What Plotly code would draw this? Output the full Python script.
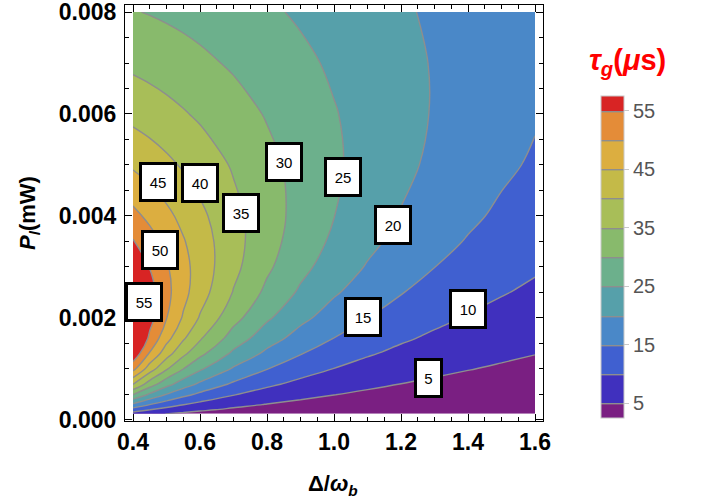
import plotly.graph_objects as go

# ---- data (Delta/omega_b, P_l in mW, tau_g in microseconds) ----
delta = [0.4, 0.45, 0.5, 0.55, 0.6, 0.7, 0.8, 0.9, 1.0, 1.1, 1.2, 1.3, 1.4, 1.5, 1.6]
power = [0.00012, 0.0002, 0.0003, 0.0005, 0.0007, 0.001, 0.0013, 0.0016, 0.002,
         0.0025, 0.003, 0.0035, 0.004, 0.005, 0.006, 0.007, 0.008]
tau_g = [
    [7.68, 6.07, 4.92, 4.07, 3.42, 2.51, 1.93, 1.52, 1.23, 1.02, 0.86, 0.73, 0.63, 0.55, 0.48],
    [12.72, 10.07, 8.17, 6.76, 5.69, 4.18, 3.20, 2.53, 2.05, 1.70, 1.43, 1.22, 1.05, 0.91, 0.80],
    [18.85, 14.96, 12.16, 10.08, 8.48, 6.25, 4.79, 3.79, 3.07, 2.54, 2.14, 1.82, 1.57, 1.37, 1.20],
    [30.24, 24.19, 19.77, 16.45, 13.89, 10.28, 7.91, 6.27, 5.09, 4.21, 3.54, 3.02, 2.61, 2.27, 2.00],
    [40.07, 32.40, 26.69, 22.34, 18.96, 14.12, 10.91, 8.67, 7.06, 5.85, 4.93, 4.21, 3.64, 3.17, 2.79],
    [51.40, 42.39, 35.45, 30.01, 25.70, 19.40, 15.12, 12.09, 9.88, 8.22, 6.95, 5.94, 5.14, 4.49, 3.95],
    [58.72, 49.48, 42.08, 36.11, 31.25, 23.97, 18.89, 15.23, 12.52, 10.46, 8.86, 7.60, 6.59, 5.77, 5.09],
    [62.68, 53.95, 46.67, 40.62, 35.57, 27.77, 22.16, 18.03, 14.92, 12.53, 10.66, 9.18, 7.98, 6.99, 6.18],
    [64.25, 56.72, 50.15, 44.45, 39.54, 31.63, 25.70, 21.20, 17.72, 15.01, 12.85, 11.11, 9.70, 8.53, 7.56],
    [62.68, 56.80, 51.40, 46.52, 42.13, 34.73, 28.88, 24.25, 20.56, 17.60, 15.21, 13.25, 11.63, 10.28, 9.15],
    [59.31, 54.83, 50.56, 46.55, 42.83, 36.28, 30.84, 26.36, 22.68, 19.64, 17.13, 15.04, 13.29, 11.82, 10.56],
    [55.35, 51.96, 48.62, 45.40, 42.33, 36.71, 31.84, 27.68, 24.15, 21.16, 18.64, 16.50, 14.69, 13.13, 11.80],
    [51.40, 48.81, 46.20, 43.63, 41.12, 36.39, 32.13, 28.36, 25.07, 22.23, 19.77, 17.65, 15.82, 14.23, 12.85],
    [44.31, 42.74, 41.12, 39.46, 37.79, 34.50, 31.34, 28.40, 25.70, 23.26, 21.07, 19.11, 17.36, 15.82, 14.44],
    [38.55, 37.55, 36.50, 35.40, 34.27, 31.96, 29.65, 27.41, 25.28, 23.28, 21.42, 19.71, 18.14, 16.72, 15.42],
    [33.94, 33.28, 32.56, 31.81, 31.02, 29.37, 27.68, 25.98, 24.31, 22.70, 21.16, 19.72, 18.36, 17.09, 15.92],
    [30.24, 29.77, 29.27, 28.73, 28.16, 26.96, 25.70, 24.40, 23.10, 21.81, 20.56, 19.35, 18.19, 17.10, 16.06],
]

contour_start = 5
contour_end = 55
contour_step = 5
colorbar_ticks = [5, 15, 25, 35, 45, 55]
band_colors = ["#7a1f82", "#4030be", "#4060d0", "#4a88c8", "#56a0aa", "#6cb08c",
               "#88ba6c", "#a8be58", "#c4ba48", "#dcae40", "#e48c38", "#d82424"]

x_ticks = [0.4, 0.6, 0.8, 1.0, 1.2, 1.4, 1.6]
y_ticks = [0.0, 0.002, 0.004, 0.006, 0.008]

label_text = ["55", "50", "45", "40", "35", "30", "25", "20", "15", "10", "5"]
label_delta = [0.433, 0.481, 0.475, 0.599, 0.722, 0.852, 1.027, 1.175, 1.087, 1.400, 1.282]
label_power = [0.002314, 0.003324, 0.004667, 0.004647, 0.004059, 0.005059, 0.004765,
               0.003824, 0.00202, 0.002176, 0.000833]

n = len(band_colors)
colorscale = [[i / (n - 1), c] for i, c in enumerate(band_colors)]

FONT = "Liberation Sans, Arial, sans-serif"

# plot-area geometry in pixels
L, R, T, B = 125, 543, 5, 421
PW, PH = R - L, B - T
CB_TOP, CB_BOT, CB_L, CB_W = 96, 418, 601, 23

fig = go.Figure()
fig.add_trace(go.Contour(
    x=delta, y=power, z=tau_g,
    autocontour=False,
    contours=dict(start=contour_start, end=contour_end, size=contour_step,
                  coloring="fill", showlines=True),
    line=dict(color="#8e8e8e", width=1.4, smoothing=1),
    colorscale=colorscale,
    colorbar=dict(
        x=(CB_L - L) / PW, xanchor="left", xpad=0,
        y=(B - CB_BOT) / PH, yanchor="bottom", ypad=0,
        len=CB_BOT - CB_TOP, lenmode="pixels", thickness=CB_W, thicknessmode="pixels",
        outlinewidth=1, outlinecolor="#c8c8c8",
        tickvals=colorbar_ticks, ticks="outside", ticklen=5, tickcolor="#c8c8c8",
        tickfont=dict(family=FONT, size=20, color="#555555"),
    ),
    hoverinfo="skip",
))

# separators between colour bands in the legend bar
shapes = []
nb = len(band_colors)
for k in range(1, nb):
    yy = (B - (CB_BOT - k * (CB_BOT - CB_TOP) / nb)) / PH
    shapes.append(dict(type="line", xref="paper", yref="paper",
                       x0=(CB_L - L) / PW, x1=(CB_L + CB_W - L) / PW, y0=yy, y1=yy,
                       line=dict(color="#8a8a8a", width=1)))

annotations = []
for t, xv, yv in zip(label_text, label_delta, label_power):
    annotations.append(dict(
        x=xv, y=yv, xref="x", yref="y", text=t, showarrow=False,
        width=24 if len(t) > 1 else 15, height=26,
        bgcolor="white", bordercolor="black", borderwidth=3, borderpad=4,
        font=dict(family=FONT, size=15, color="black"),
    ))

annotations.append(dict(
    x=(627 - L) / PW, y=(B - 62) / PH, xref="paper", yref="paper",
    text="<b><i>τ<sub>g</sub></i>(<i>μ</i>s)</b>", showarrow=False,
    xanchor="center", yanchor="middle",
    font=dict(family=FONT, size=29, color="#ff0000"),
))
annotations.append(dict(
    x=(333 - L) / PW, y=(B - 485) / PH, xref="paper", yref="paper",
    text="<b>Δ/<i>ω</i><sub><i>b</i></sub></b>", showarrow=False,
    xanchor="center", yanchor="middle",
    font=dict(family=FONT, size=22, color="black"),
))
annotations.append(dict(
    x=(29 - L) / PW, y=(B - 213) / PH, xref="paper", yref="paper",
    text="<b><i>P</i><sub><i>l</i></sub>(mW)</b>", showarrow=False, textangle=-90,
    xanchor="center", yanchor="middle",
    font=dict(family=FONT, size=22, color="black"),
))

axis_common = dict(
    showline=True, linecolor="black", linewidth=1, mirror="allticks",
    ticks="inside", ticklen=7, tickcolor="black", tickwidth=1,
    showgrid=False, zeroline=False, automargin=False, ticklabeloverflow="allow",
    tickfont=dict(family=FONT, size=23, color="black", weight="bold"),
)

fig.update_layout(
    template="none",
    width=702, height=502,
    margin=dict(l=L, r=702 - R, t=T, b=502 - B, autoexpand=False),
    paper_bgcolor="white", plot_bgcolor="white",
    showlegend=False,
    xaxis=dict(range=[0.4 - 8 / 335, 1.6 + 8 / 335], tickvals=x_ticks,
               ticktext=[f"{v:.1f}" for v in x_ticks],
               minor=dict(dtick=0.05, tick0=0.4, ticks="inside", ticklen=4,
                          tickcolor="black", showgrid=False),
               **axis_common),
    yaxis=dict(range=[-0.00002, 0.008 + 7 / 51000], tickvals=y_ticks,
               ticktext=[f"{v:.3f}" for v in y_ticks], ticklabelstandoff=3,
               minor=dict(dtick=0.0005, tick0=0, ticks="inside", ticklen=4,
                          tickcolor="black", showgrid=False),
               **axis_common),
    annotations=annotations,
    shapes=shapes,
)

fig.write_html("out.html",
               config={"displayModeBar": False},
               post_script="document.body.style.margin='0px';document.body.style.overflow='hidden';")
